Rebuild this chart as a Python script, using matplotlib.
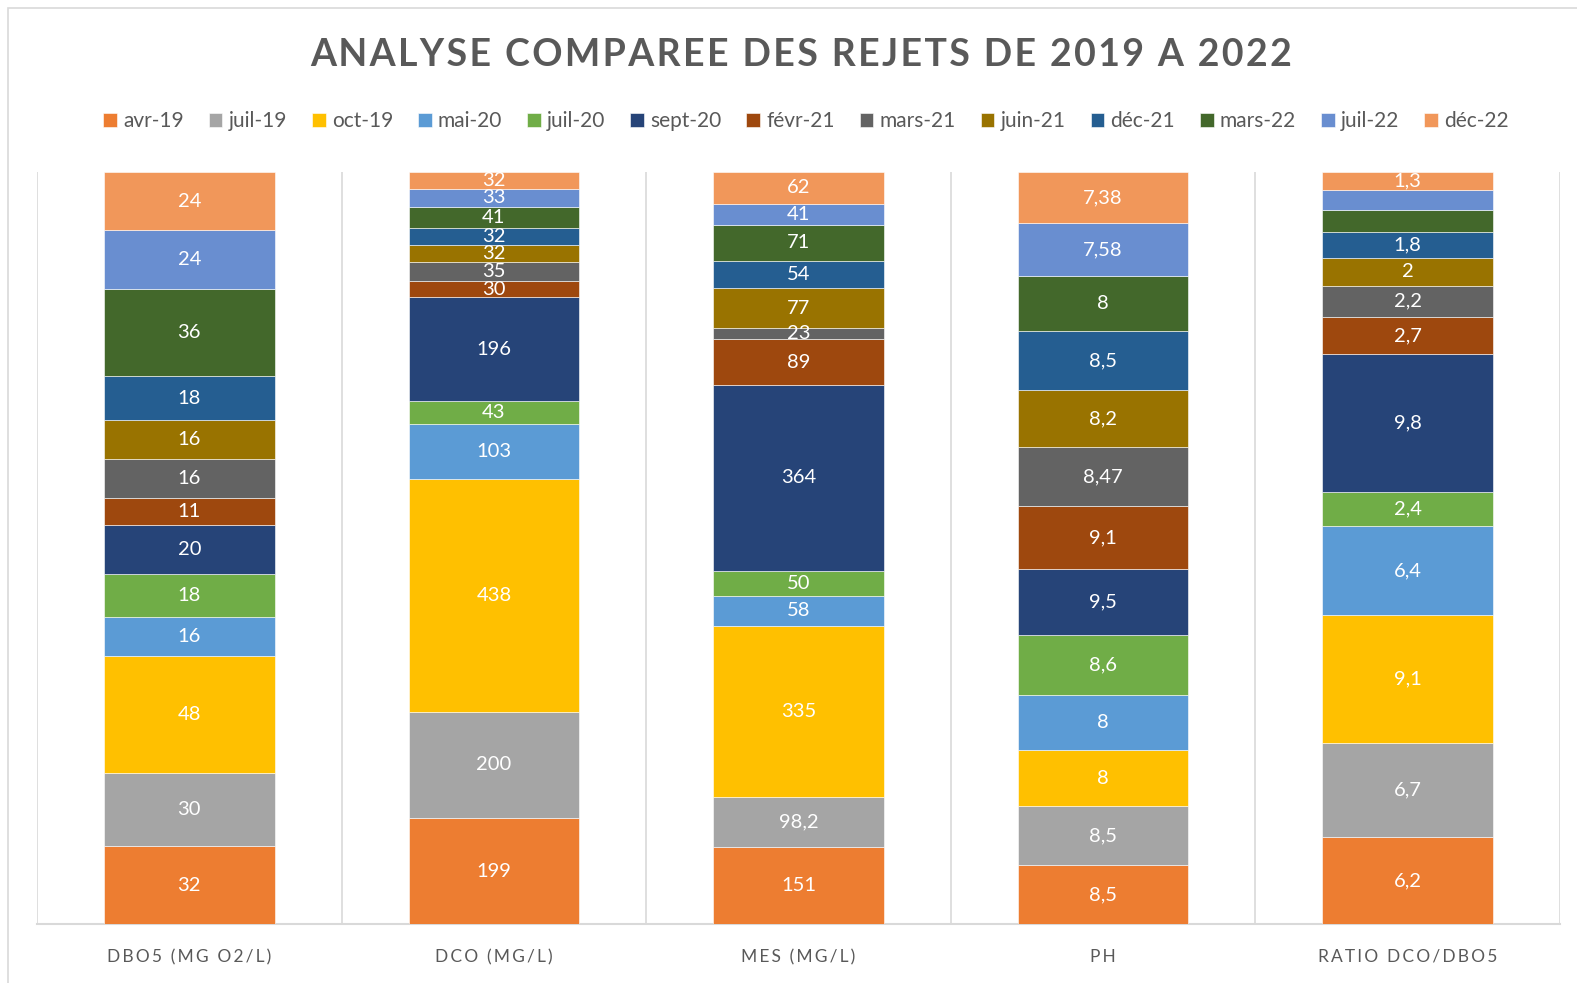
import numpy as np
import matplotlib.pyplot as plt
from matplotlib.patches import Rectangle

categories = ['DBO5 (MG O2/L)', 'DCO (MG/L)', 'MES (MG/L)', 'PH', 'RATIO DCO/DBO5']
periods = ['avr-19', 'juil-19', 'oct-19', 'mai-20', 'juil-20', 'sept-20', 'févr-21',
           'mars-21', 'juin-21', 'déc-21', 'mars-22', 'juil-22', 'déc-22']

# one list per parameter, in the order of the periods
dbo5 = [32, 30, 48, 16, 18, 20, 11, 16, 16, 18, 36, 24, 24]
dco = [199, 200, 438, 103, 43, 196, 30, 35, 32, 32, 41, 33, 32]
mes = [151, 98.2, 335, 58, 50, 364, 89, 23, 77, 54, 71, 41, 62]
ph = [8.5, 8.5, 8, 8, 8.6, 9.5, 9.1, 8.47, 8.2, 8.5, 8, 7.58, 7.38]
ratio = [6.2, 6.7, 9.1, 6.4, 2.4, 9.8, 2.7, 2.2, 2, 1.8, 1.6, 1.4, 1.3]

# labels not shown in the original (mars-22 and juil-22 of the ratio)
hidden = {(4, 10), (4, 11)}

colors = ['#ED7D31', '#A5A5A5', '#FFC000', '#5B9BD5', '#70AD47', '#264478', '#9E480E',
          '#636363', '#997300', '#255E91', '#43682B', '#698ED0', '#F1975A']

data = np.array([dbo5, dco, mes, ph, ratio], dtype=float)
shares = data / data.sum(axis=1, keepdims=True)

FONT = ['Lato', 'DejaVu Sans']
plt.rcParams['font.family'] = FONT

fig = plt.figure(figsize=(15.77, 9.83), dpi=100, facecolor='white')
ax = fig.add_axes([37 / 1577, 1 - 924 / 983, (1560 - 37) / 1577, (924 - 172) / 983])

# cadre du graphique
fig.patches.append(Rectangle((8 / 1577, -0.1), 1.2, 1 - 8 / 983 + 0.1,
                             transform=fig.transFigure, fill=False,
                             edgecolor='#D9D9D9', linewidth=1.2, zorder=0))

x = np.arange(len(categories))
bottom = np.zeros(len(categories))
for j, per in enumerate(periods):
    h = shares[:, j]
    ax.bar(x, h, bottom=bottom, width=0.56, color=colors[j], label=per,
           edgecolor='white', linewidth=0.4, zorder=3)
    for i in range(len(categories)):
        if (i, j) in hidden:
            continue
        v = data[i, j]
        txt = f"{v:g}".replace('.', ',')
        ax.text(x[i], bottom[i] + h[i] / 2, txt, ha='center', va='center',
                color='white', fontsize=14.5, zorder=4)
    bottom += h

ax.set_xlim(-0.5, len(categories) - 0.5)
ax.set_ylim(0, 1)
ax.set_yticks([])
ax.set_xticks(x)
ax.set_xticklabels(['\u2009'.join(c) for c in categories],
                   color='#595959', fontsize=12.5)
ax.tick_params(axis='x', length=0, pad=18)
ax.set_xticks(np.arange(-0.5, len(categories)), minor=True)
ax.tick_params(axis='x', which='minor', length=0)
ax.grid(axis='x', which='minor', color='#D9D9D9', linewidth=1.2, zorder=0)
for s in ['top', 'left', 'right']:
    ax.spines[s].set_visible(False)
ax.spines['bottom'].set_color('#D9D9D9')
ax.spines['bottom'].set_linewidth(1.5)

title = 'ANALYSE COMPAREE DES REJETS DE 2019 A 2022'
fig.text(801 / 1577, 1 - 55 / 983, '\u200a'.join(title), ha='center', va='center',
         fontsize=27, fontweight='bold', color='#595959')

fig.legend(loc='center', bbox_to_anchor=(806 / 1577, 1 - 121 / 983), ncol=len(periods),
           frameon=False, fontsize=15, handlelength=0.65, handleheight=0.65,
           handletextpad=0.3, columnspacing=1.2, labelcolor='#595959')

fig.savefig('out.png', dpi=100, facecolor='white')
